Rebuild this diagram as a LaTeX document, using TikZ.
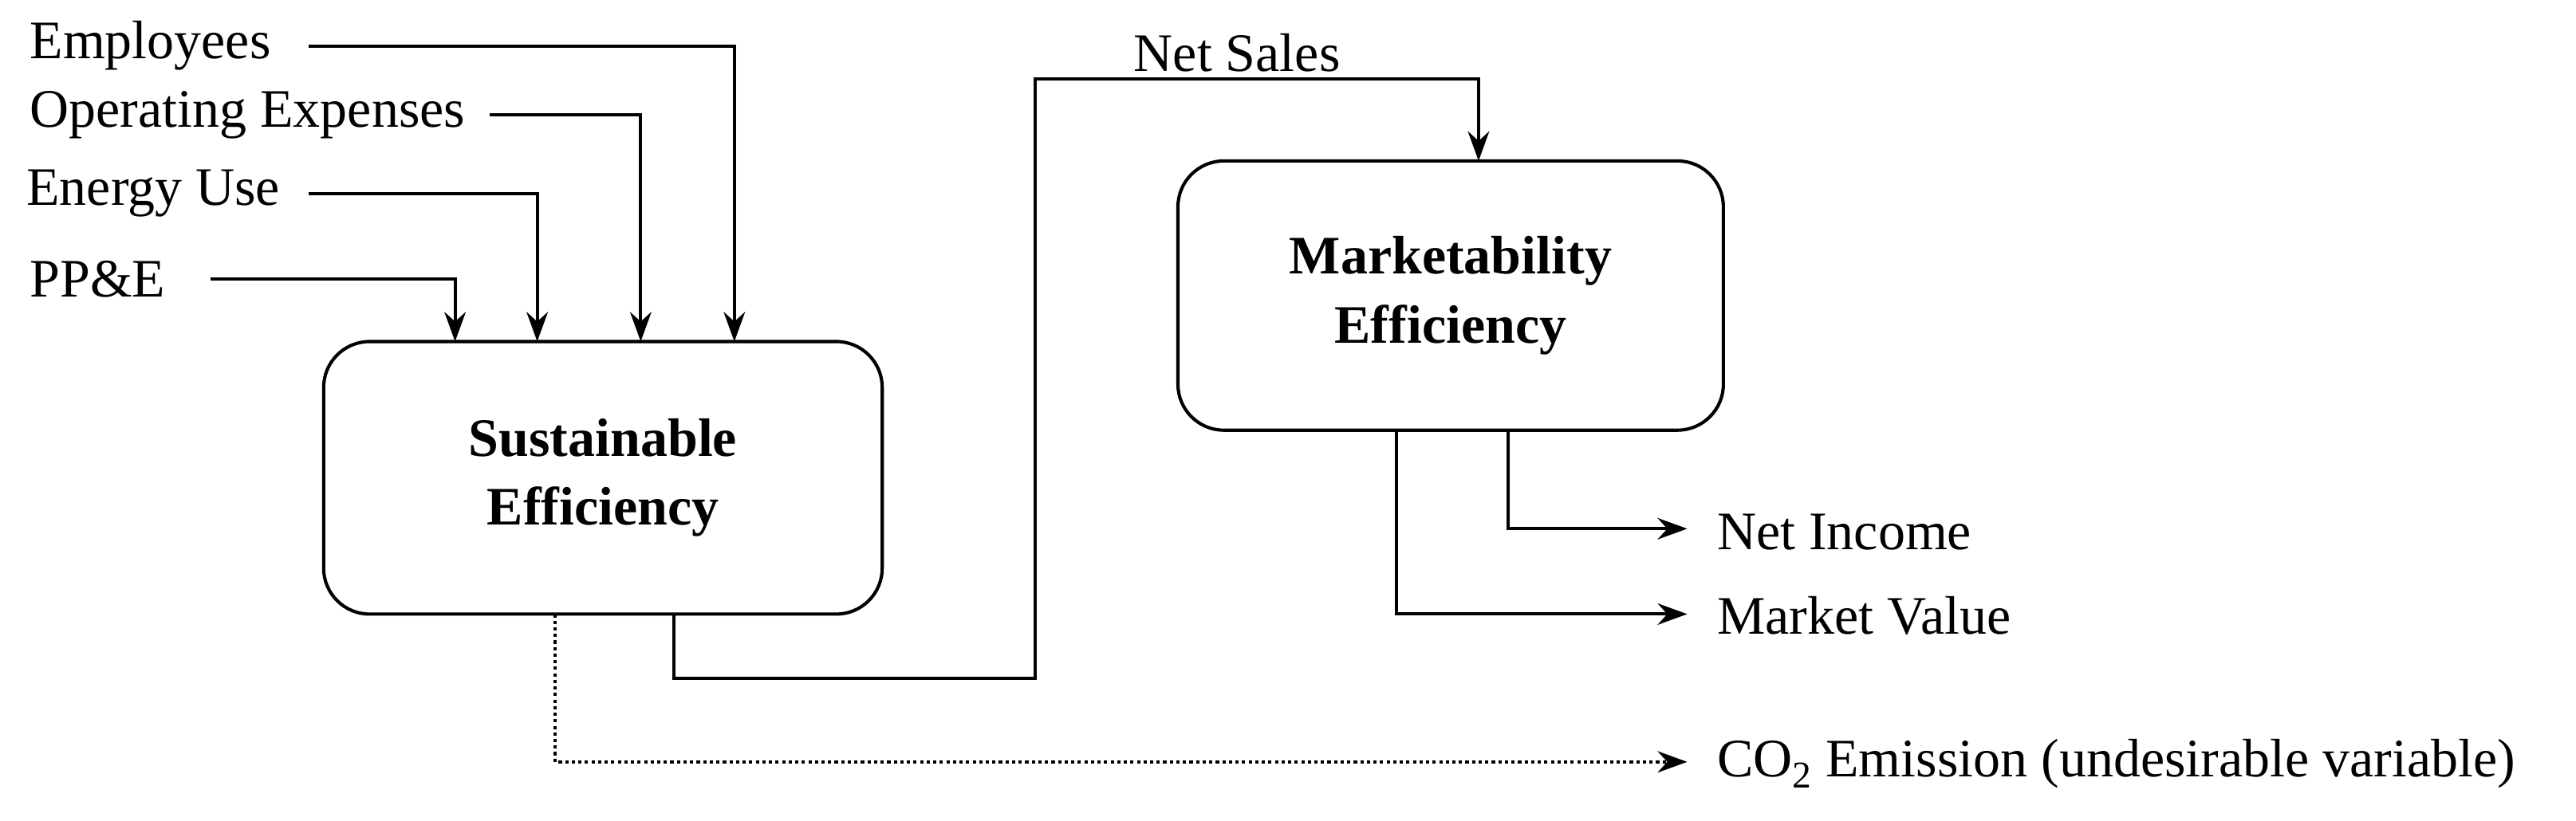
\documentclass[tikz,border=0pt]{standalone}
\usepackage{fontspec}
\setmainfont{Liberation Serif}
\usetikzlibrary{arrows.meta}
\begin{document}
\begin{tikzpicture}[x=1pt,y=-1pt,
  lbl/.style={anchor=west,inner sep=0pt,font=\fontsize{33}{38}\selectfont},
  effbox/.style={draw,line width=2pt,rounded corners=28pt,align=center,font=\fontsize{33}{42}\selectfont\bfseries},
  conn/.style={line width=2pt,-{Stealth[length=18pt,width=13pt]}},
  plain/.style={line width=2pt}]
\useasboundingbox (0,0) rectangle (1568,500);
\node[effbox,minimum width=340pt,minimum height=166pt] (se) at (367,291) {Sustainable\\Efficiency};
\node[effbox,minimum width=332pt,minimum height=164pt] (me) at (883,180) {Marketability\\Efficiency};
\node[lbl] (emp) at (18,28) {Employees};
\node[lbl] (opx) at (18,70) {Operating Expenses};
\node[lbl] (eng) at (16,118) {Energy Use};
\node[lbl] (ppe) at (18,170) {PP\&E};
\node[lbl] (ns) at (690,32) {Net Sales};
\node[lbl] (ni) at (1045,324) {Net Income};
\node[lbl] (mv) at (1045,375) {Market Value};
\node[lbl] (co) at (1045,465) {CO\textsubscript{2} Emission (undesirable variable)};
\coordinate (a1) at (188,28);
\coordinate (a2) at (298,70);
\coordinate (a3) at (188,118);
\coordinate (a4) at (128,170);
\draw[conn] (a1) -| (447,208);
\draw[conn] (a2) -| (390,208);
\draw[conn] (a3) -| (327,208);
\draw[conn] (a4) -| (277,208);
\draw[conn] (410,374) |- (630,413) |- (900,48) -- (900,98);
\draw[conn] (918,262) |- (1027,322);
\draw[conn] (850,262) |- (1027,374);
\draw[conn,dotted] (338,374) |- (1027,464);
\end{tikzpicture}
\end{document}
